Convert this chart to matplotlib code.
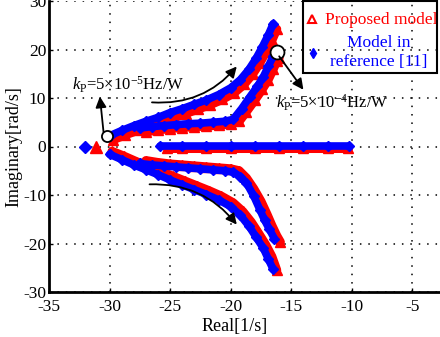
import matplotlib
matplotlib.use("Agg")
import matplotlib.pyplot as plt
from matplotlib.lines import Line2D
from matplotlib.patches import Rectangle

plt.rcParams["font.family"] = ["Liberation Serif", "DejaVu Serif"]
plt.rcParams["mathtext.fontset"] = "custom"
plt.rcParams["mathtext.rm"] = "Liberation Serif"
plt.rcParams["mathtext.it"] = "Liberation Serif:italic"
plt.rcParams["axes.unicode_minus"] = False

# Data

# upper / lower outer branches
blue_out_up_x = [-30.0, -29.0, -28.0, -27.0, -26.0, -25.0, -24.0, -23.0, -22.0, -21.0, -20.0, -19.2, -18.5, -17.9, -17.4, -16.9, -16.5]
blue_out_up_y = [2.2, 3.3, 4.3, 5.2, 6.0, 7.0, 7.8, 8.7, 9.6, 10.7, 12.1, 13.8, 15.9, 18.2, 20.5, 23.0, 25.3]
red_out_up_x = [-29.7, -28.7, -27.7, -26.7, -25.7, -24.7, -23.7, -22.7, -21.7, -20.7, -19.7, -18.9, -18.2, -17.6, -17.1, -16.6, -16.2]
red_out_up_y = [1.4, 2.4, 3.3, 4.2, 5.0, 5.9, 6.8, 7.7, 8.6, 9.7, 11.1, 12.8, 14.9, 17.2, 19.5, 21.9, 24.2]

blue_out_lo_x = [-30.0, -29.0, -28.0, -27.0, -26.0, -25.0, -24.0, -23.0, -22.0, -21.0, -20.0, -19.2, -18.5, -17.9, -17.3, -16.9, -16.5]
blue_out_lo_y = [-1.6, -2.7, -3.8, -4.8, -5.8, -6.9, -7.9, -8.9, -9.9, -11.0, -12.4, -14.2, -16.4, -18.7, -21.0, -23.2, -25.3]
red_out_lo_x = [-29.8, -28.8, -27.8, -26.8, -25.8, -24.8, -23.8, -22.8, -21.8, -20.8, -19.8, -19.0, -18.3, -17.7, -17.1, -16.6, -16.2]
red_out_lo_y = [-1.0, -2.0, -3.1, -4.1, -5.1, -6.1, -7.1, -8.1, -9.1, -10.2, -11.6, -13.4, -15.6, -17.9, -20.3, -22.7, -25.5]

# upper / lower inner branches
blue_in_up_x = [-27.5, -26.5, -25.5, -24.5, -23.5, -22.5, -21.5, -20.5, -19.8, -19.1, -18.4, -17.8, -17.3, -16.9, -16.5, -16.3]
blue_in_up_y = [3.8, 4.1, 4.3, 4.5, 4.7, 4.8, 5.0, 5.2, 5.6, 7.8, 10.3, 12.4, 14.4, 16.5, 18.6, 19.4]
red_in_up_x = [-27.0, -26.0, -25.0, -24.0, -23.0, -22.0, -21.0, -20.0, -19.3, -18.7, -18.0, -17.4, -16.9, -16.5, -16.2, -16.0]
red_in_up_y = [3.0, 3.4, 3.7, 3.9, 4.1, 4.2, 4.4, 4.6, 5.2, 7.2, 9.6, 11.8, 13.8, 15.9, 17.6, 18.3]

blue_in_lo_x = [-27.5, -26.5, -25.5, -24.5, -23.5, -22.5, -21.5, -20.5, -19.8, -19.2, -18.7, -18.1, -17.6, -17.2, -16.8, -16.4]
blue_in_lo_y = [-3.5, -3.8, -4.0, -4.2, -4.4, -4.6, -4.8, -5.0, -5.3, -6.2, -7.5, -10.2, -13.0, -15.2, -17.1, -19.0]
red_in_lo_x = [-27.0, -26.0, -25.0, -24.0, -23.0, -22.0, -21.0, -20.0, -19.3, -18.7, -18.1, -17.5, -17.0, -16.6, -16.2, -15.9]
red_in_lo_y = [-2.9, -3.3, -3.6, -3.8, -4.0, -4.2, -4.4, -4.6, -5.0, -6.5, -8.7, -11.3, -14.0, -16.3, -18.4, -19.7]

# real-axis branch
blue_real_x = [-25.8, -24.0, -22.0, -20.0, -18.0, -16.0, -14.0, -12.0, -10.2]
blue_real_y = [0.1, 0.1, 0.1, 0.1, 0.1, 0.1, 0.1, 0.1, 0.1]
red_real_x = [-25.3, -24.0, -22.0, -20.0, -18.0, -16.0, -14.0, -12.0, -10.3]
red_real_y = [-0.4, -0.4, -0.4, -0.4, -0.4, -0.4, -0.4, -0.4, -0.4]

# single real poles
blue_pole = (-32.0, 0.0)
red_pole = (-31.1, 0.0)

# kp markers
kp_start = (-30.2, 2.1)
kp_end = (-16.2, 19.4)

x_ticks = [-35, -30, -25, -20, -15, -10, -5, 0]
y_ticks = [-30, -20, -10, 0, 10, 20, 30]

legend_labels = ["Proposed model", "Model in\nreference [11]"]

RED = "#ff0000"
BLUE = "#0000ff"
W, H = 440, 337


def px(x, y):
    # figure pixel (from top-left) -> figure fraction
    return x / W, 1 - y / H


def main():
    fig = plt.figure(figsize=(4.4, 3.37), dpi=100)
    ax = fig.add_axes([49 / W, 45 / H, 424 / W, 291 / H])

    red_sets = [(red_out_up_x, red_out_up_y), (red_out_lo_x, red_out_lo_y),
                (red_in_up_x, red_in_up_y), (red_in_lo_x, red_in_lo_y),
                (red_real_x, red_real_y)]
    blue_sets = [(blue_out_up_x, blue_out_up_y), (blue_out_lo_x, blue_out_lo_y),
                 (blue_in_up_x, blue_in_up_y), (blue_in_lo_x, blue_in_lo_y),
                 (blue_real_x, blue_real_y)]

    for xs, ys in red_sets:
        ax.plot(xs, ys, color=RED, lw=6.5, marker="^", ms=7, mfc=RED, mec=RED,
                solid_capstyle="round", zorder=3)
    for xs, ys in blue_sets:
        ax.plot(xs, ys, color=BLUE, lw=5.5, marker="D", ms=5.5, mfc=BLUE, mec=BLUE,
                solid_capstyle="round", zorder=4)

    ax.plot(*red_pole, marker="^", ms=8, color=RED, zorder=4)
    ax.plot(*blue_pole, marker="D", ms=6, color=BLUE, zorder=4)

    # kp circles
    ax.plot(*kp_start, marker="o", ms=8, mfc="white", mec="black", mew=1.3, zorder=6)
    ax.plot(*kp_end, marker="o", ms=10, mfc="white", mec="black", mew=1.3, zorder=6)

    arrow = dict(arrowstyle="-|>", color="black", lw=1.3, mutation_scale=16,
                 shrinkA=0, shrinkB=0)
    ax.annotate("", xy=(-30.8, 10.3), xytext=(-30.5, 3.0), arrowprops=arrow, zorder=7)
    ax.annotate("", xy=(-14.0, 11.7), xytext=(-16.0, 18.6), arrowprops=arrow, zorder=7)
    ax.annotate("", xy=(-19.5, 16.5), xytext=(-26.5, 9.1),
                arrowprops=dict(arrow, connectionstyle="arc3,rad=0.25"), zorder=7)
    ax.annotate("", xy=(-19.5, -16.1), xytext=(-26.7, -7.8),
                arrowprops=dict(arrow, connectionstyle="arc3,rad=-0.25"), zorder=7)

    ax.text(-33.1, 12.8, r"$k_{\mathrm{P}}$=5×10$^{-5}$Hz/W", fontsize=12,
            va="center", ha="left", zorder=7)
    ax.text(-16.3, 9.1, r"$k_{\mathrm{P}}$=5×10$^{-4}$Hz/W", fontsize=12,
            va="center", ha="left", zorder=7)

    ax.set_xlim(-35, 0)
    ax.set_ylim(-30, 30)
    ax.set_xticks(x_ticks)
    ax.set_yticks(y_ticks)
    ax.tick_params(direction="in", length=3, labelsize=12.5, width=1)
    ax.tick_params(axis="x", pad=5)
    ax.tick_params(axis="y", pad=2)
    ax.grid(True, color="black", linestyle=(0, (1, 4.5)), lw=1.1)
    for side in ["left", "bottom"]:
        ax.spines[side].set_linewidth(2)
    ax.spines["top"].set_visible(False)
    ax.spines["right"].set_visible(False)

    ax.set_xlabel("Real[1/s]", fontsize=13, labelpad=0)
    ax.xaxis.set_label_coords(0.439, -0.088)
    ax.set_ylabel("Imaginary[rad/s]", fontsize=13, labelpad=0)
    ax.yaxis.set_label_coords(-0.062, 0.5)

    # legend box (drawn by hand so the text can sit tight against the frame)
    x0, y0 = px(303, 73)
    x1, y1 = px(437, 1)
    fig.add_artist(Rectangle((x0, y0), x1 - x0, y1 - y0, transform=fig.transFigure,
                             fill=False, edgecolor="black", lw=1.5, zorder=8))
    fig.add_artist(Line2D([px(312, 19)[0]], [px(312, 19)[1]], transform=fig.transFigure,
                          ls="none", marker="^", ms=6, mfc="none", mec=RED, mew=1.5))
    fig.add_artist(Line2D([px(313, 53)[0]], [px(313, 53)[1]], transform=fig.transFigure,
                          ls="none", marker="d", ms=5, mfc=BLUE, mec=BLUE))
    fig.text(*px(437, 19.5), legend_labels[0], color=RED, fontsize=12.5,
             ha="right", va="center")
    fig.text(*px(379, 52.5), legend_labels[1], color=BLUE, fontsize=12.5,
             ha="center", va="center", multialignment="center", linespacing=1.2)

    fig.savefig("out.png", dpi=100)


if __name__ == "__main__":
    main()
